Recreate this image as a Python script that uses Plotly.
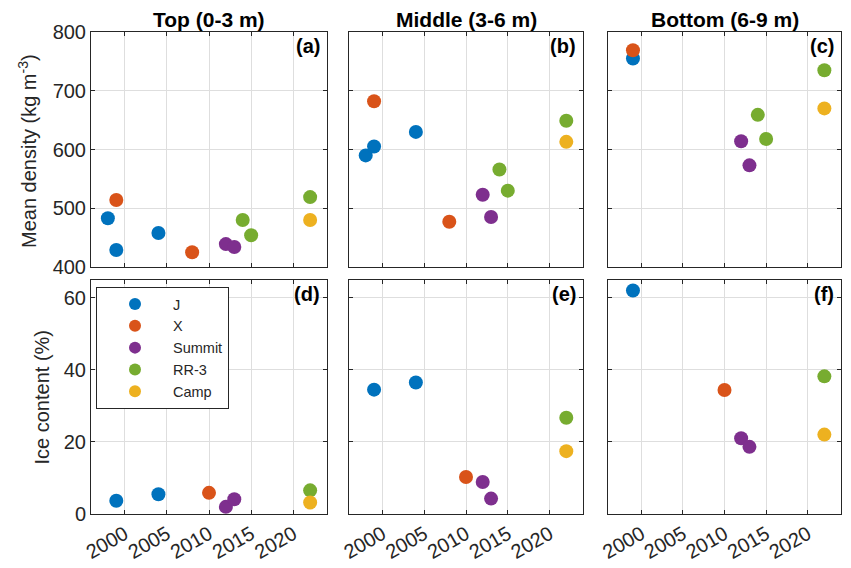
import plotly.graph_objects as go

W, H = 851, 568
OFF = 8  # page body offset of the rendered figure

sites = ["J", "X", "Summit", "RR-3", "Camp"]
colors = ["#0072BD", "#D95319", "#7E2F8E", "#77AC30", "#EDB120"]

# Mean density (kg m-3) per layer: years and values per site
dens_years = {
    "top": {"J": [1998, 1999, 2004], "X": [1999, 2008], "Summit": [2012, 2013],
            "RR-3": [2014, 2015, 2022], "Camp": [2022]},
    "mid": {"J": [1998, 1999, 2004], "X": [1999, 2008], "Summit": [2012, 2013],
            "RR-3": [2014, 2015, 2022], "Camp": [2022]},
    "bot": {"J": [1999], "X": [1999], "Summit": [2012, 2013],
            "RR-3": [2014, 2015, 2022], "Camp": [2022]},
}
dens_vals = {
    "top": {"J": [483, 429, 458], "X": [514, 425], "Summit": [439, 434],
            "RR-3": [480, 454, 519], "Camp": [480]},
    "mid": {"J": [590, 605, 630], "X": [682, 477], "Summit": [523, 485],
            "RR-3": [566, 530, 649], "Camp": [613]},
    "bot": {"J": [755], "X": [769], "Summit": [614, 573],
            "RR-3": [659, 618, 735], "Camp": [670]},
}
# Ice content (%)
ice_years = {
    "top": {"J": [1999, 2004], "X": [2010], "Summit": [2012, 2013],
            "RR-3": [2022], "Camp": [2022]},
    "mid": {"J": [1999, 2004], "X": [2010], "Summit": [2012, 2013],
            "RR-3": [2022], "Camp": [2022]},
    "bot": {"J": [1999], "X": [2010], "Summit": [2012, 2013],
            "RR-3": [2022], "Camp": [2022]},
}
ice_vals = {
    "top": {"J": [3.6, 5.4], "X": [5.8], "Summit": [1.9, 4.0],
            "RR-3": [6.5], "Camp": [3.1]},
    "mid": {"J": [34.5, 36.5], "X": [10.2], "Summit": [8.8, 4.2],
            "RR-3": [26.7], "Camp": [17.4]},
    "bot": {"J": [62.1], "X": [34.4], "Summit": [21.0, 18.6],
            "RR-3": [38.2], "Camp": [22.0]},
}

layers = ["top", "mid", "bot"]
col_titles = ["Top (0-3 m)", "Middle (3-6 m)", "Bottom (6-9 m)"]
panel_labels = [["(a)", "(b)", "(c)"], ["(d)", "(e)", "(f)"]]
x_ticks = [2000, 2005, 2010, 2015, 2020]

FONT = "Liberation Sans, Arial, sans-serif"


def px(x):
    return (x - OFF) / W


def py(y):
    return 1 - (y - OFF) / H


xdoms = [(px(91), px(327)), (px(349), px(583)), (px(608), px(841))]
ydoms = [(py(267), py(32)), (py(513.7), py(280))]

fig = go.Figure()
layout = {}
axcolor = "#262626"
gridcolor = "#dedede"

for r in range(2):
    for c in range(3):
        idx = r * 3 + c + 1
        xa = "xaxis" if idx == 1 else f"xaxis{idx}"
        ya = "yaxis" if idx == 1 else f"yaxis{idx}"
        xr = "x" if idx == 1 else f"x{idx}"
        yr = "y" if idx == 1 else f"y{idx}"
        layout[xa] = dict(
            domain=xdoms[c], anchor=yr, range=[1996, 2024], tickvals=x_ticks,
            showticklabels=(r == 1), tickangle=-30, ticks="inside", ticklen=4,
            tickcolor=axcolor, showline=True, linecolor=axcolor, linewidth=1,
            mirror="allticks", showgrid=True, gridcolor=gridcolor, gridwidth=1,
            zeroline=False, automargin=False,
            tickfont=dict(size=20, color="#262626", family=FONT),
        )
        if r == 0:
            yrange, ytv = [400, 800], [400, 500, 600, 700, 800]
        else:
            yrange, ytv = [0, 65], [0, 20, 40, 60]
        layout[ya] = dict(
            domain=ydoms[r], anchor=xr, range=yrange, tickvals=ytv,
            showticklabels=(c == 0), ticks="inside", ticklen=4,
            tickcolor=axcolor, showline=True, linecolor=axcolor, linewidth=1,
            mirror="allticks", showgrid=True, gridcolor=gridcolor, gridwidth=1,
            zeroline=False, automargin=False,
            tickfont=dict(size=20, color="#262626", family=FONT),
        )
        layer = layers[c]
        yrs = dens_years[layer] if r == 0 else ice_years[layer]
        vals = dens_vals[layer] if r == 0 else ice_vals[layer]
        for s, col in zip(sites, colors):
            fig.add_trace(go.Scatter(
                x=yrs[s], y=vals[s], mode="markers", name=s,
                marker=dict(color=col, size=14, line=dict(width=0)),
                xaxis=xr, yaxis=yr, legendgroup=s,
                showlegend=(idx == 4), cliponaxis=False,
            ))

annotations = []
for c in range(3):
    annotations.append(dict(
        text=f"<b>{col_titles[c]}</b>", x=(xdoms[c][0] + xdoms[c][1]) / 2,
        y=py(19), xref="paper", yref="paper", showarrow=False,
        font=dict(size=21, color="black", family=FONT), xanchor="center", yanchor="middle"))
for r in range(2):
    for c in range(3):
        annotations.append(dict(
            text=f"<b>{panel_labels[r][c]}</b>", x=xdoms[c][1] - 5 / W,
            y=ydoms[r][1] - 14 / H, xref="paper", yref="paper", showarrow=False,
            font=dict(size=20, color="black", family=FONT), xanchor="right", yanchor="middle"))
annotations.append(dict(
    text="Mean density (kg m<sup>-3</sup>)", x=px(27), y=py(151),
    xref="paper", yref="paper", showarrow=False, textangle=-90,
    font=dict(size=20, color="#262626", family=FONT), xanchor="center", yanchor="middle"))
annotations.append(dict(
    text="Ice content (%)", x=px(41.5), y=py(397),
    xref="paper", yref="paper", showarrow=False, textangle=-90,
    font=dict(size=20, color="#262626", family=FONT), xanchor="center", yanchor="middle"))

fig.update_layout(
    width=W, height=H, margin=dict(l=0, r=0, t=0, b=0, autoexpand=False),
    paper_bgcolor="white", plot_bgcolor="white",
    annotations=annotations,
    legend=dict(x=px(96), y=py(287), xanchor="left", yanchor="top",
                bordercolor="#262626", borderwidth=1, bgcolor="white",
                font=dict(size=14.5, color="#262626", family=FONT),
                itemsizing="constant", itemwidth=66, tracegroupgap=0,
                entrywidth=103),
    **layout,
)

fig.write_html("out.html")
